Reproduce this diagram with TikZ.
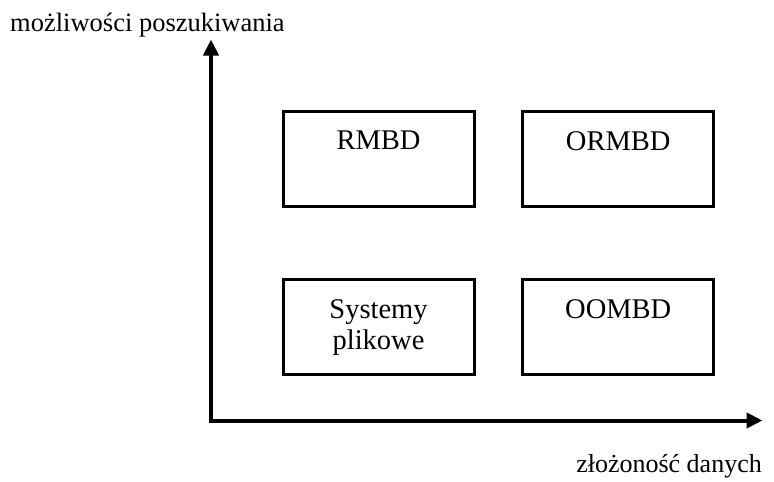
\documentclass[tikz,border=0pt]{standalone}
\usepackage{fontspec}
\setmainfont{Liberation Serif}
\usetikzlibrary{arrows.meta}
\begin{document}
\begin{tikzpicture}[x=1pt,y=-1pt,
  box/.style={draw=black,line width=3pt,minimum width=191pt,minimum height=95pt,inner sep=0pt},
  boxtext/.style={anchor=north,inner sep=0pt,align=center,font=\fontsize{28.5}{31.5}\selectfont},
  axislabel/.style={inner sep=0pt,font=\fontsize{26}{30}\selectfont},
  axis/.style={line width=4pt,{Triangle[length=16pt,width=15pt]}-{Triangle[length=16pt,width=15pt]}}]
\useasboundingbox (0,0) rectangle (774,482);
\coordinate (ytip) at (211,39.5);
\coordinate (corner) at (211,420.5);
\coordinate (xtip) at (762.5,420.5);
\draw[axis] (ytip) -- (corner) -- (xtip);
\node[axislabel,anchor=base west,font=\fontsize{26.5}{30}\selectfont] (ylab) at (10,31.7) {możliwości poszukiwania};
\node[axislabel,anchor=base east] (xlab) at (762,472) {złożoność danych};
\node[box] (rmbd) at (378.5,159.25) {};
\node[box] (ormbd) at (618.25,159.25) {};
\node[box] (sys) at (378.5,327.25) {};
\node[box] (oombd) at (618.25,327.25) {};
\node[boxtext] (trmbd) at (378.5,131) {RMBD};
\node[boxtext] (tormbd) at (618.25,131) {ORMBD};
\node[boxtext] (tsys) at (378.5,299) {Systemy\\plikowe};
\node[boxtext] (toombd) at (618.25,299) {OOMBD};
\end{tikzpicture}
\end{document}
